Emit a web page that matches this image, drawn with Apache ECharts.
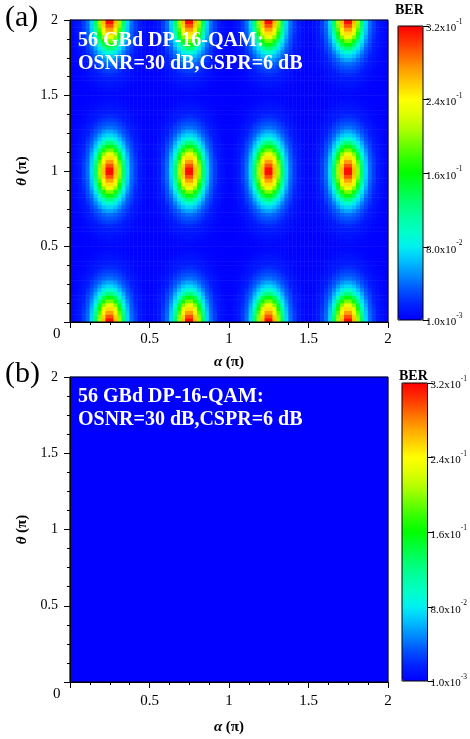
<!DOCTYPE html>
<html><head><meta charset="utf-8">
<script src="https://cdn.jsdelivr.net/npm/echarts@6/dist/echarts.min.js"></script>
<style>html,body{margin:0;padding:0;background:#fff}#c{width:470px;height:739px}</style>
</head><body><div id="c"></div>
<script>
// ---------------- data ----------------
const peakAlpha = [0.25, 0.75, 1.25, 1.75];   // α of BER peaks (π)
const peakTheta = [0, 1, 2];                  // θ of BER peaks (π)
const cellStep = 0.025;                       // sampling step (π)
// BER around one peak (one quadrant)
// rows: θ offset 0.0125 .. 0.4875 ; cols: α offset 0.0125 .. 0.2375
const peakQuadrant = [
  [0.315,0.262,0.205,0.131,0.073,0.042,0.026,0.014,0.009,0.004],
  [0.295,0.256,0.199,0.127,0.071,0.041,0.026,0.014,0.009,0.004],
  [0.272,0.244,0.185,0.119,0.068,0.039,0.025,0.013,0.008,0.004],
  [0.251,0.227,0.166,0.107,0.064,0.037,0.023,0.013,0.008,0.004],
  [0.230,0.197,0.146,0.092,0.058,0.035,0.021,0.012,0.007,0.004],
  [0.193,0.165,0.124,0.077,0.051,0.032,0.019,0.012,0.007,0.004],
  [0.157,0.136,0.100,0.068,0.043,0.029,0.016,0.011,0.006,0.003],
  [0.125,0.107,0.078,0.058,0.037,0.026,0.014,0.010,0.005,0.003],
  [0.094,0.079,0.065,0.047,0.033,0.022,0.013,0.009,0.004,0.003],
  [0.072,0.065,0.053,0.038,0.028,0.017,0.012,0.007,0.004,0.003],
  [0.057,0.051,0.040,0.032,0.023,0.014,0.010,0.006,0.004,0.003],
  [0.042,0.038,0.033,0.026,0.018,0.013,0.009,0.005,0.003,0.002],
  [0.034,0.032,0.027,0.021,0.014,0.011,0.007,0.004,0.003,0.002],
  [0.027,0.025,0.021,0.015,0.012,0.009,0.005,0.004,0.003,0.002],
  [0.020,0.018,0.015,0.013,0.010,0.007,0.004,0.003,0.002,0.001],
  [0.014,0.014,0.012,0.010,0.008,0.005,0.004,0.003,0.002,0.001],
  [0.012,0.011,0.010,0.008,0.006,0.004,0.003,0.002,0.002,0.001],
  [0.010,0.009,0.008,0.006,0.004,0.003,0.003,0.002,0.001,0.001],
  [0.007,0.007,0.005,0.004,0.004,0.003,0.002,0.002,0.001,0.001],
  [0.005,0.004,0.004,0.003,0.003,0.002,0.002,0.001,0.001,0.001]
];
const panelBLevel = 0.001;                    // panel (b): uniform BER
const xTickLabels = ['0', '0.5', '1', '1.5', '2'];
const yTickLabels = ['0', '0.5', '1', '1.5', '2'];
const berTickValues = [0.001, 0.08, 0.16, 0.24, 0.32];
const berTickMant = ['1.0', '8.0', '1.6', '2.4', '3.2'];
const berTickExp = ['-3', '-2', '-1', '-1', '-1'];
const berMin = 0.001, berMax = 0.32;
const jetColors = ['#0000ff','#0020ff','#0050ff','#0088ff','#00c0ff','#00f0f0','#00ffc8','#00ffa0','#00ff70','#00ff38',
  '#00ff00','#30ff00','#70ff00','#b0ff00','#e0ff00','#ffff00','#ffd000','#ffa000','#ff6800','#ff3000','#ff0000'];

// ---------------- build heatmap table ----------------
const nCells = Math.round(2 / cellStep);
const cats = [];
for (let i = 0; i < nCells; i++) cats.push(((i + 0.5) * cellStep).toFixed(4));
const gridA = [];
for (let i = 0; i < nCells; i++) {
  const a = (i + 0.5) * cellStep;
  const da = Math.min(...peakAlpha.map(p => Math.abs(a - p)));
  const ci = Math.round((da - cellStep / 2) / cellStep);
  for (let j = 0; j < nCells; j++) {
    const t = (j + 0.5) * cellStep;
    const dt = Math.min(...peakTheta.map(p => Math.abs(t - p)));
    const ri = Math.round((dt - cellStep / 2) / cellStep);
    gridA.push([i, j, peakQuadrant[ri][ci]]);
  }
}

const serif = 'Liberation Serif';
const txt = '#000';
function labelIdx(v) { return Math.round(v / 0.5); }

function valueX(gi, gap, margin) {
  return {
    type: 'value', gridIndex: gi, min: 0, max: 2, interval: 0.5, z: 10,
    axisLine: { show: true, onZero: false, lineStyle: { color: '#000', width: 1 } },
    axisTick: { show: true, inside: false, length: 6, lineStyle: { color: '#000' } },
    minorTick: { show: true, splitNumber: 4, length: 3, lineStyle: { color: '#000' } },
    splitLine: { show: false }, minorSplitLine: { show: false },
    axisLabel: { showMinLabel: false, margin: margin, color: txt, fontFamily: serif, fontSize: 15,
      formatter: v => xTickLabels[labelIdx(v)] },
    name: '{i|α} {b|(π)}', nameLocation: 'middle', nameGap: gap,
    nameTextStyle: { rich: {
      i: { fontFamily: serif, fontSize: 15, fontWeight: 'bold', fontStyle: 'italic', color: txt },
      b: { fontFamily: serif, fontSize: 15, fontWeight: 'bold', color: txt } } }
  };
}
function valueY(gi) {
  return {
    type: 'value', gridIndex: gi, min: 0, max: 2, interval: 0.5, z: 10,
    axisLine: { show: true, onZero: false, lineStyle: { color: '#000', width: 1 } },
    axisTick: { show: true, inside: false, length: 6, lineStyle: { color: '#000' } },
    minorTick: { show: true, splitNumber: 4, length: 3, lineStyle: { color: '#000' } },
    splitLine: { show: false }, minorSplitLine: { show: false },
    axisLabel: { showMinLabel: false, margin: 12, color: txt, fontFamily: serif, fontSize: 14,
      formatter: v => yTickLabels[labelIdx(v)] },
    name: '{i|θ} {b|(π)}', nameLocation: 'middle', nameGap: 28, nameRotate: 90,
    nameTextStyle: { rich: {
      i: { fontFamily: serif, fontSize: 15, fontWeight: 'bold', fontStyle: 'italic', color: txt },
      b: { fontFamily: serif, fontSize: 15, fontWeight: 'bold', color: txt } } }
  };
}
function hiddenCat(gi, data) {
  return { type: 'category', gridIndex: gi, data: data, show: false, boundaryGap: true };
}
function cbY(gi) {
  return {
    type: 'value', gridIndex: gi, position: 'right', min: berMin, max: berMax, z: 10,
    axisLine: { show: false },
    axisTick: { show: true, inside: false, length: 6, customValues: berTickValues, lineStyle: { color: '#000' } },
    splitLine: { show: false },
    axisLabel: { show: true, margin: 3, customValues: berTickValues, color: txt,
      formatter: v => {
        const k = berTickValues.findIndex(t => Math.abs(t - v) < 1e-9);
        return k < 0 ? '' : '{m|' + berTickMant[k] + 'x10}{s|' + berTickExp[k] + '}';
      },
      rich: {
        m: { fontFamily: serif, fontSize: 11, color: txt, verticalAlign: 'bottom', lineHeight: 16 },
        s: { fontFamily: serif, fontSize: 7.5, color: txt, verticalAlign: 'top', lineHeight: 9 }
      } }
  };
}

const cbA = { left: 398, top: 26, w: 25, h: 294 };
const cbB = { left: 402, top: 383, w: 26, h: 298 };

const option = {
  animation: false,
  backgroundColor: '#fff',
  grid: [
    { left: 70, top: 20, width: 318, height: 302, show: true, borderColor: '#000', borderWidth: 1, z: 5 },
    { left: 70, top: 377, width: 318, height: 305, show: true, borderColor: '#000', borderWidth: 1, z: 5 },
    { left: cbA.left, top: cbA.top, width: cbA.w, height: cbA.h, show: true, borderColor: '#000', borderWidth: 1, z: 10 },
    { left: cbB.left, top: cbB.top, width: cbB.w, height: cbB.h, show: true, borderColor: '#000', borderWidth: 1, z: 10 }
  ],
  xAxis: [
    valueX(0, 33, 10), hiddenCat(0, cats),
    valueX(1, 38, 12), hiddenCat(1, ['b']),
    hiddenCat(2, ['']), hiddenCat(3, [''])
  ],
  yAxis: [
    valueY(0), hiddenCat(0, cats),
    valueY(1), hiddenCat(1, ['b']),
    cbY(2), cbY(3)
  ],
  visualMap: [
    { type: 'continuous', seriesIndex: 0, min: berMin, max: berMax, calculable: false, orient: 'vertical',
      left: cbA.left, top: cbA.top, itemWidth: cbA.w, itemHeight: cbA.h, padding: 0, text: null,
      hoverLink: false, inRange: { color: jetColors } },
    { type: 'continuous', seriesIndex: 1, min: berMin, max: berMax, calculable: false, orient: 'vertical',
      left: cbB.left, top: cbB.top, itemWidth: cbB.w, itemHeight: cbB.h, padding: 0, text: null,
      hoverLink: false, inRange: { color: jetColors } }
  ],
  series: [
    { type: 'heatmap', xAxisIndex: 1, yAxisIndex: 1, data: gridA, progressive: 0, emphasis: { disabled: true } },
    { type: 'heatmap', xAxisIndex: 3, yAxisIndex: 3, data: [[0, 0, panelBLevel]], progressive: 0, emphasis: { disabled: true } }
  ],
  graphic: [
    { type: 'text', left: 5, top: 3, style: { text: '(a)', font: '30px "Liberation Serif"', fill: '#000' } },
    { type: 'text', left: 5, top: 359, style: { text: '(b)', font: '30px "Liberation Serif"', fill: '#000' } },
    { type: 'text', left: 395, top: 3, style: { text: 'BER', font: 'bold 14px "Liberation Serif"', fill: '#000' } },
    { type: 'text', left: 399, top: 369, style: { text: 'BER', font: 'bold 14px "Liberation Serif"', fill: '#000' } },
    { type: 'text', left: 78, top: 29, z: 20, style: { text: '56 GBd DP-16-QAM:\nOSNR=30 dB,CSPR=6 dB', font: 'bold 20px "Liberation Serif"', lineHeight: 23, fill: '#fff' } },
    { type: 'text', left: 78, top: 385, z: 20, style: { text: '56 GBd DP-16-QAM:\nOSNR=30 dB,CSPR=6 dB', font: 'bold 20px "Liberation Serif"', lineHeight: 23, fill: '#fff' } },
    { type: 'text', left: 53, top: 327, style: { text: xTickLabels[0], font: '15px "Liberation Serif"', fill: '#000' } },
    { type: 'text', left: 53, top: 687, style: { text: xTickLabels[0], font: '15px "Liberation Serif"', fill: '#000' } }
  ]
};
const chart = echarts.init(document.getElementById('c'), null, { renderer: 'canvas' });
chart.setOption(option);
</script></body></html>
